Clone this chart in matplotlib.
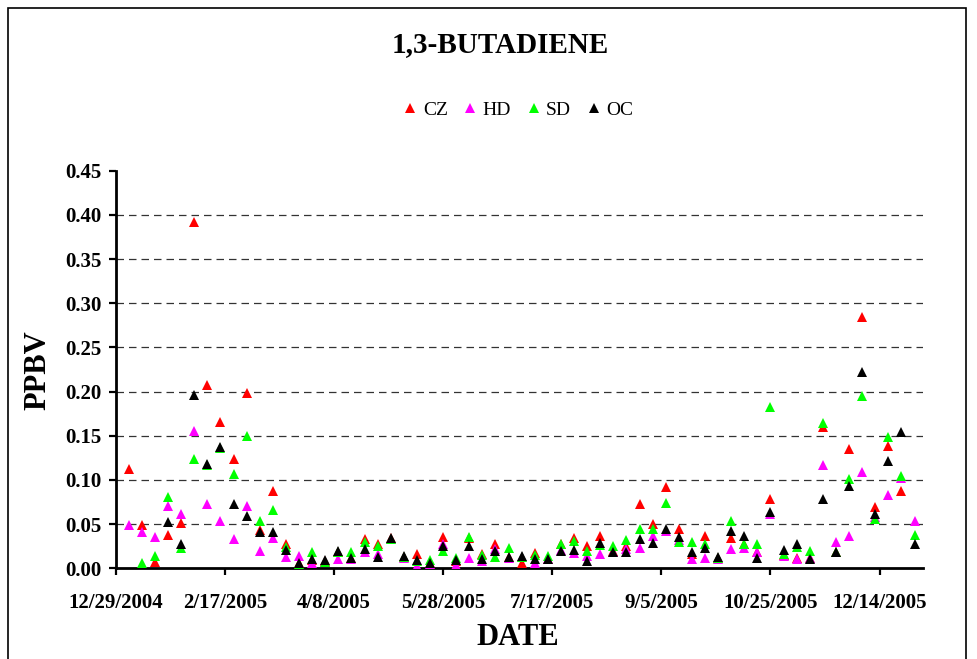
import numpy as np
import pandas as pd
import matplotlib
matplotlib.use("Agg")
import matplotlib.pyplot as plt
from matplotlib.lines import Line2D
from matplotlib.patches import Rectangle

nan = np.nan

# sampling dates (1-in-6 day schedule)
dates = ["1/4/2005", "1/10/2005", "1/16/2005", "1/22/2005", "1/28/2005",
         "2/3/2005", "2/9/2005", "2/15/2005", "2/21/2005", "2/27/2005",
         "3/5/2005", "3/11/2005", "3/17/2005", "3/23/2005", "3/29/2005",
         "4/4/2005", "4/10/2005", "4/16/2005", "4/22/2005", "4/28/2005",
         "5/4/2005", "5/10/2005", "5/16/2005", "5/22/2005", "5/28/2005",
         "6/3/2005", "6/9/2005", "6/15/2005", "6/21/2005", "6/27/2005",
         "7/3/2005", "7/9/2005", "7/15/2005", "7/21/2005", "7/27/2005",
         "8/2/2005", "8/8/2005", "8/14/2005", "8/20/2005", "8/26/2005",
         "9/1/2005", "9/7/2005", "9/13/2005", "9/19/2005", "9/25/2005",
         "10/1/2005", "10/7/2005", "10/13/2005", "10/19/2005", "10/25/2005", "10/31/2005",
         "11/6/2005", "11/12/2005", "11/18/2005", "11/24/2005", "11/30/2005",
         "12/6/2005", "12/12/2005", "12/18/2005", "12/24/2005", "12/30/2005"]

cz = [0.112, 0.049, 0.007, 0.038, 0.051, 0.392, 0.207, 0.166, 0.124, 0.198,
      0.043, 0.088, 0.028, 0.006, 0.009, 0.008, 0.019, 0.012, 0.033, 0.028,
      0.034, 0.013, 0.016, 0.006, 0.035, 0.008, 0.034, 0.016, 0.027, 0.013,
      0.006, 0.017, 0.011, 0.028, 0.034, 0.025, 0.037, 0.020, 0.025, 0.073,
      0.050, 0.092, 0.044, 0.016, 0.037, 0.012, 0.034, 0.028, 0.018, 0.079,
      0.015, 0.012, 0.012, 0.160, 0.019, 0.135, 0.285, 0.069, 0.139, 0.088, nan]
hd = [0.049, 0.041, 0.036, 0.071, 0.061, 0.155, 0.073, 0.054, 0.033, 0.070,
      0.020, 0.034, 0.013, 0.014, 0.006, 0.007, 0.010, 0.011, 0.018, 0.016,
      0.033, 0.012, 0.003, 0.005, 0.028, 0.004, 0.012, 0.008, 0.022, 0.012,
      0.013, 0.006, 0.011, 0.021, 0.017, 0.014, 0.016, 0.019, 0.022, 0.023,
      0.037, 0.042, 0.032, 0.010, 0.012, 0.010, 0.022, 0.023, 0.019, 0.061,
      0.014, 0.010, 0.012, 0.117, 0.030, 0.037, 0.109, 0.058, 0.083, 0.102, 0.054]
sd = [nan, 0.006, 0.014, 0.081, 0.023, 0.124, 0.117, 0.136, 0.107, 0.150,
      0.053, 0.066, 0.024, 0.005, 0.018, 0.007, 0.018, 0.018, 0.030, 0.025,
      0.033, 0.013, 0.008, 0.009, 0.020, 0.012, 0.035, 0.015, 0.013, 0.023,
      0.013, 0.015, 0.014, 0.027, 0.031, 0.020, 0.026, 0.025, 0.032, 0.044,
      0.044, 0.074, 0.030, 0.030, 0.027, 0.012, 0.054, 0.027, 0.027, 0.183,
      0.016, 0.024, 0.020, 0.165, 0.018, 0.101, 0.195, 0.056, 0.149, 0.104, 0.038]
oc = [nan, nan, nan, 0.052, 0.028, 0.196, 0.118, 0.137, 0.073, 0.059,
      0.041, 0.041, 0.021, 0.006, 0.011, 0.009, 0.020, 0.012, 0.022, 0.013,
      0.034, 0.014, 0.009, 0.006, 0.025, 0.009, 0.025, 0.011, 0.020, 0.013,
      0.014, 0.011, 0.010, 0.020, 0.021, 0.008, 0.029, 0.018, 0.019, 0.033,
      0.029, 0.045, 0.035, 0.019, 0.023, 0.013, 0.042, 0.037, 0.012, 0.064,
      0.021, 0.028, 0.011, 0.078, 0.018, 0.093, 0.222, 0.061, 0.122, 0.154, 0.027]

series = [("CZ", cz, "#ff0000"), ("HD", hd, "#ff00ff"), ("SD", sd, "#00ff00"), ("OC", oc, "#000000")]

tick_labels = ["12/29/2004", "2/17/2005", "4/8/2005", "5/28/2005",
               "7/17/2005", "9/5/2005", "10/25/2005", "12/14/2005"]
x_max = "1/3/2006"
y_ticks = [0.00, 0.05, 0.10, 0.15, 0.20, 0.25, 0.30, 0.35, 0.40, 0.45]

plt.rcParams["font.family"] = ["Liberation Serif", "DejaVu Serif"]

fig = plt.figure(figsize=(9.77, 6.59), dpi=100)
ax = fig.add_axes([0.1184, 0.1376, 0.8266, 0.6033])

x = pd.to_datetime(dates, format="%m/%d/%Y")
for name, vals, col in series:
    ax.plot(x, vals, linestyle="none", marker="^", markersize=7.5,
            color=col, markeredgewidth=0, label=name, zorder=3)

ticks = pd.to_datetime(tick_labels, format="%m/%d/%Y")
ax.set_xlim(ticks[0], pd.to_datetime(x_max, format="%m/%d/%Y"))
ax.set_xticks(ticks)
ax.set_xticklabels(tick_labels, fontsize=15, fontweight="bold")
ax.set_ylim(0, 0.45)
ax.set_yticks(y_ticks)
ax.set_yticklabels([f"{v:.2f}" for v in y_ticks], fontsize=15, fontweight="bold")

for v in y_ticks[1:-1]:
    ax.axhline(v, color="#333333", linewidth=0.9, dashes=(6, 4), zorder=1)

for s in ["top", "right"]:
    ax.spines[s].set_visible(False)
for s in ["left", "bottom"]:
    ax.spines[s].set_linewidth(2)
ax.tick_params(axis="both", direction="out", length=5, width=1.6)
ax.tick_params(axis="x", pad=13)
ax.tick_params(axis="y", pad=5)

fig.text(0.512, 0.932, "1,3-BUTADIENE", ha="center", va="center",
         fontsize=21, fontweight="bold")
fig.text(0.530, 0.033, "DATE", ha="center", va="center",
         fontsize=22, fontweight="bold")
fig.text(0.039, 0.439, "PPBV", ha="center", va="center", rotation=90,
         fontsize=22, fontweight="bold")

handles = [Line2D([], [], linestyle="none", marker="^", markersize=7,
                  color=c, markeredgewidth=0) for _, _, c in series]
fig.legend(handles, [n for n, _, _ in series], loc="center",
           bbox_to_anchor=(0.531, 0.833), ncol=4, frameon=False,
           fontsize=14, handlelength=0.6, handletextpad=0.35, columnspacing=0.85)

fig.patches.append(Rectangle((7.5 / 977, -0.1), (966 - 7.5) / 977, 1.1 - 7.5 / 659,
                             transform=fig.transFigure, fill=False,
                             edgecolor="black", linewidth=1.2))

fig.savefig("out.png", dpi=100)
